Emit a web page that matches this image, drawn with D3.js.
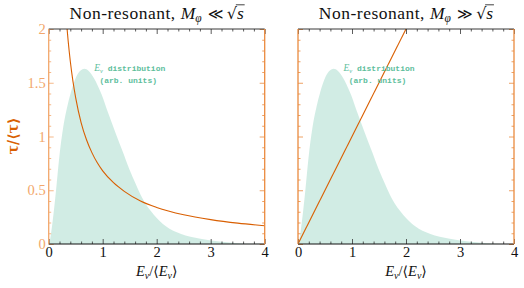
<!DOCTYPE html>
<html><head><meta charset="utf-8">
<script src="https://cdn.jsdelivr.net/npm/d3@7"></script>
<style>
html,body{margin:0;padding:0;background:#fff;}
svg{display:block;}
</style></head>
<body>
<svg id="chart" width="524" height="288"></svg>
<script>
// ---- data ----
const xTicks = [0, 1, 2, 3, 4];
const xTickLabels = ["0", "1", "2", "3", "4"];
const yTicks = [0, 0.5, 1, 1.5, 2];
const yTickLabels = ["0", "0.5", "1", "1.5", "2"];

// E_nu distribution (arb. units), same in both panels
const distX = [0, 0.025, 0.075, 0.13, 0.19, 0.27, 0.34, 0.41, 0.51, 0.59, 0.66, 0.74, 0.83, 0.98, 1.1, 1.24, 1.37, 1.49, 1.61, 1.73, 1.95, 2.17, 2.44, 2.81, 3.2, 3.5, 4];
const distY = [0, 0.04, 0.22, 0.47, 0.78, 1.09, 1.27, 1.41, 1.556, 1.615, 1.63, 1.61, 1.55, 1.39, 1.22, 1.03, 0.86, 0.70, 0.56, 0.43, 0.27, 0.165, 0.095, 0.048, 0.02, 0.007, 0];

// left panel: tau/<tau>, M_phi << sqrt(s)
const leftX = [0.33, 0.36, 0.40, 0.45, 0.50, 0.60, 0.70, 0.80, 0.90, 1.0, 1.2, 1.4, 1.7, 2.0, 2.5, 3.0, 3.5, 4.0];
const leftY = [2.06, 1.89, 1.70, 1.51, 1.36, 1.13, 0.97, 0.85, 0.755, 0.68, 0.57, 0.49, 0.40, 0.34, 0.272, 0.227, 0.194, 0.17];

// right panel: tau/<tau>, M_phi >> sqrt(s)
const rightX = [0, 2.1];
const rightY = [0, 2.1];

const titles = [
  {pre: "Non-resonant,", rel: "\u226A"},
  {pre: "Non-resonant,", rel: "\u226B"}
];
const annotLine1 = "distribution";
const annotLine2 = "(arb. units)";

// ---- styles ----
const orange = "#d95f02";
const spineOrange = "#ea8a3e";
const lightOrange = "#f2a76c";
const fillTeal = "rgba(27,158,119,0.2)";
const textTeal = "#5dbe9c";
const serif = "'Liberation Serif', 'DejaVu Serif', serif";
const mono = "'Liberation Mono', monospace";

const svg = d3.select("#chart");
const y = d3.scaleLinear().domain([0, 2]).range([244, 29]);
const panels = [
  {x: d3.scaleLinear().domain([0, 4]).range([48.7, 264.7]), cx: leftX, cy: leftY, idx: 0},
  {x: d3.scaleLinear().domain([0, 4]).range([298, 514]), cx: rightX, cy: rightY, idx: 1}
];

const xMinor = d3.range(0, 4.0001, 0.2).filter(v => Math.abs(v - Math.round(v)) > 1e-6);
const yMinor = d3.range(0, 2.0001, 0.1).filter(v => Math.abs(v * 2 - Math.round(v * 2)) > 1e-6);

panels.forEach(p => {
  const x = p.x;
  const [x0, x1] = x.range();
  const [yb, yt] = y.range();
  const clipId = "clip" + p.idx;
  svg.append("clipPath").attr("id", clipId).append("rect")
    .attr("x", x0).attr("y", yt).attr("width", x1 - x0).attr("height", yb - yt);
  const g = svg.append("g");
  const plot = g.append("g").attr("clip-path", `url(#${clipId})`);

  const area = d3.area().x((d, i) => x(distX[i])).y0(y(0)).y1((d, i) => y(distY[i])).curve(d3.curveMonotoneX);
  plot.append("path").datum(distX).attr("d", area).attr("fill", fillTeal);

  const line = d3.line().x((d, i) => x(p.cx[i])).y((d, i) => y(p.cy[i])).curve(d3.curveMonotoneX);
  plot.append("path").datum(p.cx).attr("d", line).attr("fill", "none").attr("stroke", orange).attr("stroke-width", 1.1);

  // annotation
  const ax = x(1.5);
  const t1 = g.append("text").attr("x", ax).attr("y", 71).attr("text-anchor", "middle")
    .attr("fill", textTeal).attr("font-size", 8);
  t1.append("tspan").attr("font-family", serif).attr("font-style", "italic").attr("font-size", 9.5).text("E");
  t1.append("tspan").attr("font-family", serif).attr("font-style", "italic").attr("font-size", 6.5).attr("dy", 1.5).text("\u03BD");
  t1.append("tspan").attr("font-family", mono).attr("dy", -1.5).attr("font-weight", "bold").text("\u00A0" + annotLine1);
  g.append("text").attr("x", ax - 1.5).attr("y", 83).attr("text-anchor", "middle").attr("font-weight", "bold")
    .attr("fill", textTeal).attr("font-size", 8).attr("font-family", mono).text(annotLine2);

  // axes: bottom & top (black), left & right (orange)
  const bot = g.append("g").attr("transform", `translate(0,${yb})`);
  bot.call(d3.axisBottom(x).tickValues(xTicks).tickFormat((d, i) => xTickLabels[i]).tickSizeInner(-5).tickSizeOuter(0).tickPadding(3));
  const botMin = g.append("g").attr("transform", `translate(0,${yb})`);
  botMin.call(d3.axisBottom(x).tickValues(xMinor).tickFormat("").tickSizeInner(-2.5).tickSizeOuter(0));
  const top = g.append("g").attr("transform", `translate(0,${yt})`);
  top.call(d3.axisTop(x).tickValues(xTicks).tickFormat("").tickSizeInner(-5).tickSizeOuter(0));
  const topMin = g.append("g").attr("transform", `translate(0,${yt})`);
  topMin.call(d3.axisTop(x).tickValues(xMinor).tickFormat("").tickSizeInner(-2.5).tickSizeOuter(0));
  [bot, botMin, top, topMin].forEach(a => {
    a.select(".domain").remove();
    a.selectAll(".tick line").attr("stroke", "#333").attr("stroke-width", 0.8);
  });
  bot.selectAll(".tick text").attr("font-family", serif).attr("font-size", 14.5).attr("fill", "#111");

  const leftCol = p.idx === 0 ? lightOrange : spineOrange;
  const lft = g.append("g").attr("transform", `translate(${x0},0)`);
  lft.call(d3.axisLeft(y).tickValues(yTicks).tickFormat((d, i) => p.idx === 0 ? yTickLabels[i] : "").tickSizeInner(-5).tickSizeOuter(0).tickPadding(3));
  const lftMin = g.append("g").attr("transform", `translate(${x0},0)`);
  lftMin.call(d3.axisLeft(y).tickValues(yMinor).tickFormat("").tickSizeInner(-2.5).tickSizeOuter(0));
  [lft, lftMin].forEach(a => {
    a.select(".domain").remove();
    a.selectAll(".tick line").attr("stroke", leftCol).attr("stroke-width", 0.8);
  });
  lft.selectAll(".tick text").attr("font-family", serif).attr("font-size", 14.5).attr("fill", lightOrange);

  const rgt = g.append("g").attr("transform", `translate(${x1},0)`);
  rgt.call(d3.axisRight(y).tickValues(yTicks).tickFormat("").tickSizeInner(-5).tickSizeOuter(0));
  const rgtMin = g.append("g").attr("transform", `translate(${x1},0)`);
  rgtMin.call(d3.axisRight(y).tickValues(yMinor).tickFormat("").tickSizeInner(-2.5).tickSizeOuter(0));
  [rgt, rgtMin].forEach(a => {
    a.select(".domain").remove();
    a.selectAll(".tick line").attr("stroke", spineOrange).attr("stroke-width", 0.8);
  });

  // spines
  g.append("line").attr("x1", x0).attr("x2", x1).attr("y1", yb).attr("y2", yb).attr("stroke", "#111").attr("stroke-width", 1);
  g.append("line").attr("x1", x0).attr("x2", x1).attr("y1", yt).attr("y2", yt).attr("stroke", "#222").attr("stroke-width", 0.9);
  g.append("line").attr("x1", x0).attr("x2", x0).attr("y1", yt).attr("y2", yb).attr("stroke", leftCol).attr("stroke-width", 1.3);
  g.append("line").attr("x1", x1).attr("x2", x1).attr("y1", yt).attr("y2", yb).attr("stroke", spineOrange).attr("stroke-width", 1.3);

  // title
  const cx = (x0 + x1) / 2;
  const tt = g.append("text").attr("x", cx).attr("y", 18.5).attr("text-anchor", "middle")
    .attr("font-family", serif).attr("font-size", 17.5).attr("fill", "#111");
  tt.append("tspan").attr("letter-spacing", 0.5).text(titles[p.idx].pre);
  tt.append("tspan").attr("font-style", "italic").attr("dx", 5).text("M");
  tt.append("tspan").attr("font-style", "italic").attr("font-size", 11.5).attr("dy", 3).text("\u03C6");
  tt.append("tspan").attr("dy", -3).attr("dx", 6).attr("font-family", "'DejaVu Sans', sans-serif").attr("font-size", 15).text(titles[p.idx].rel);
  tt.append("tspan").attr("dx", 3.5).attr("font-family", "'DejaVu Serif', serif").attr("font-size", 16).text("\u221A");
  tt.append("tspan").attr("font-style", "italic").text("s");
  // overline over s
  const node = tt.node();
  const full = node.textContent;
  const ext = node.getExtentOfChar(full.length - 1);
  const extR = node.getExtentOfChar(full.length - 2);
  g.append("line").attr("x1", extR.x + extR.width - 1.2).attr("x2", ext.x + ext.width + 0.8)
    .attr("y1", extR.y + 1.3).attr("y2", extR.y + 1.3).attr("stroke", "#111").attr("stroke-width", 0.8);

  // x label
  const xl = g.append("text").attr("x", cx).attr("y", 276).attr("text-anchor", "middle")
    .attr("font-family", serif).attr("font-size", 14.5).attr("fill", "#111");
  xl.append("tspan").attr("font-style", "italic").text("E");
  xl.append("tspan").attr("font-style", "italic").attr("font-size", 10).attr("dy", 2.5).text("\u03BD");
  xl.append("tspan").attr("dy", -2.5).text("/");
  xl.append("tspan").attr("font-family", "'DejaVu Serif', serif").attr("font-size", 14).text("\u27E8");
  xl.append("tspan").attr("font-style", "italic").text("E");
  xl.append("tspan").attr("font-style", "italic").attr("font-size", 10).attr("dy", 2.5).text("\u03BD");
  xl.append("tspan").attr("dy", -2.5).attr("font-family", "'DejaVu Serif', serif").attr("font-size", 14).text("\u27E9");
});

// y label
const yl = svg.append("text").attr("transform", "translate(18,136) rotate(-90)").attr("text-anchor", "middle")
  .attr("font-family", "'DejaVu Serif', serif").attr("font-weight", "bold").attr("font-size", 14).attr("fill", orange);
yl.append("tspan").text("\u03C4/\u27E8\u03C4\u27E9");
</script>
</body></html>
